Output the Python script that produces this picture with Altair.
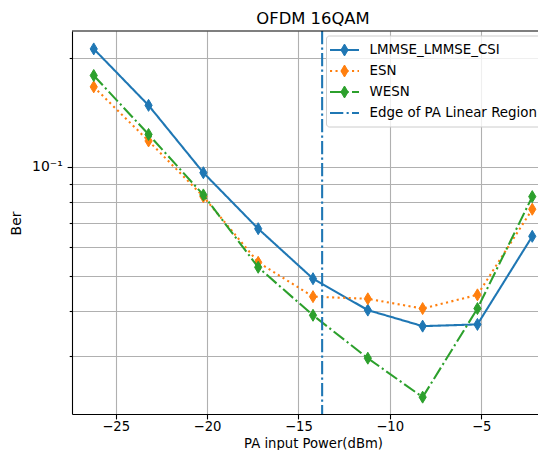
import altair as alt
import pandas as pd

# ---- data ----
x_power = [-26.2, -23.2, -20.2, -17.2, -14.2, -11.2, -8.2, -5.2, -2.2]
ber_lmmse = [0.212, 0.148, 0.0964, 0.0675, 0.0491, 0.0402, 0.0363, 0.0367, 0.0643]
ber_esn = [0.1665, 0.118, 0.0828, 0.0545, 0.0438, 0.0432, 0.0406, 0.0443, 0.0764]
ber_wesn = [0.179, 0.123, 0.0837, 0.0528, 0.0389, 0.0296, 0.0231, 0.0406, 0.0828]
series_names = ["LMMSE_LMMSE_CSI", "ESN", "WESN"]
edge_x = [-13.7]
edge_label = "Edge of PA Linear Region"
chart_title = "OFDM 16QAM"
x_ticks = [-25, -20, -15, -10, -5]
y_ticks = [0.03, 0.04, 0.05, 0.06, 0.07, 0.08, 0.09, 0.1, 0.2]

# ---- styling ----
colors = ["#1f77b4", "#ff7f0e", "#2ca02c"]
SOLID = [1, 0]
DOTTED = [2.1, 3.4]
DASHDOT = [13.3, 3.3, 2.1, 3.3]
dashes = [SOLID, DOTTED, DASHDOT]
DIAMOND = "M0,-1L0.6,0L0,1L-0.6,0Z"
FONT = "DejaVu Sans"
W, H = 466, 383
LW = 2.08
# full (uncropped) plot width in the reference, used to centre the title texts
FULL_W = 482

series_vals = [ber_lmmse, ber_esn, ber_wesn]

xscale = alt.Scale(domain=[-27.39, -1.886], nice=False, zero=False)
yscale = alt.Scale(type="log", domain=[0.02075, 0.2376], nice=False)

xaxis = alt.Axis(values=x_ticks, grid=True, tickSize=4.9, labelPadding=1.5,
                 labelFontSize=13.2,
                 labelExpr="replace(datum.label, '-', '\u2212')", labelFlush=False,
                 title="PA input Power(dBm)", titleX=FULL_W / 2, titleY=36,
                 titleFontSize=13.2,
                 titleAlign="center", titleBaseline="bottom")
yaxis = alt.Axis(values=y_ticks, grid=True,
                 tickSize={"condition": {"test": "datum.value == 0.1", "value": 4.9}, "value": 2.8},
                 labelPadding=4.9,
                 labelExpr="datum.value == 0.1 ? '10\u207b\u00b9' : ''",
                 title="Ber", titleX=-56, titleY=192, titleAngle=270,
                 titleAlign="center", titleBaseline="middle")

X = alt.X("power:Q", scale=xscale, axis=xaxis)
Y = alt.Y("ber:Q", scale=yscale, axis=yaxis)

layers = []
for i, (name, vals) in enumerate(zip(series_names, series_vals)):
    d = pd.DataFrame({"power": x_power, "ber": vals, "series": name})
    base = alt.Chart(d)
    layers.append(base.mark_line(color=colors[i], strokeWidth=LW, strokeDash=dashes[i]).encode(x=X, y=Y))
    layers.append(base.mark_point(shape=DIAMOND, size=144, filled=True, opacity=1,
                                  fill=colors[i], stroke=colors[i], strokeWidth=1).encode(x=X, y=Y))

edge = alt.Chart(pd.DataFrame({"power": edge_x})).mark_rule(
    color="#1f77b4", strokeWidth=LW, strokeDash=DASHDOT).encode(x=X)
layers.append(edge)

# top spine
one = pd.DataFrame({"a": [0]})
layers.append(alt.Chart(one).mark_rule(color="black", strokeWidth=1.1).encode(
    x=alt.value(0), x2=alt.value(W + 5), y=alt.value(0)))

# title as text
layers.append(alt.Chart(pd.DataFrame({"t": [chart_title]})).mark_text(
    font=FONT, fontSize=16.4, align="center", baseline="alphabetic", color="black").encode(
    x=alt.value(FULL_W / 2), y=alt.value(-7), text="t:N"))

# ---- legend ----
LX = 254.5
layers.append(alt.Chart(one).mark_rect(cornerRadius=3, fill="white", fillOpacity=0.8,
                                       stroke="#cccccc", strokeWidth=1).encode(
    x=alt.value(LX), x2=alt.value(W + 20), y=alt.value(5), y2=alt.value(96)))

legend_names = series_names + [edge_label]
legend_colors = colors + ["#1f77b4"]
legend_dashes = dashes + [DASHDOT]
for i, name in enumerate(legend_names):
    yy = 19 + 21 * i
    ld = pd.DataFrame({"label": [name]})
    lc = alt.Chart(ld)
    layers.append(lc.mark_rule(color=legend_colors[i], strokeWidth=LW, strokeDash=legend_dashes[i]).encode(
        x=alt.value(LX + 3.5), x2=alt.value(LX + 32.5), y=alt.value(yy)))
    if i < 3:
        layers.append(lc.mark_point(shape=DIAMOND, size=144, filled=True, opacity=1,
                                    fill=legend_colors[i], stroke=legend_colors[i], strokeWidth=1).encode(
            x=alt.value(LX + 18), y=alt.value(yy)))
    layers.append(lc.mark_text(align="left", baseline="middle", font=FONT, fontSize=13.4,
                               color="black").encode(
        x=alt.value(LX + 43), y=alt.value(yy), text="label:N"))

chart = alt.layer(*layers).properties(
    width=W, height=H,
    autosize=alt.AutoSizeParams(type="none"),
    padding={"left": 64, "top": 23, "right": 0, "bottom": 36},
    background="white",
).configure_view(stroke=None).configure_axis(
    labelFont=FONT, titleFont=FONT, labelFontSize=13.9, titleFontSize=13.9,
    titleFontWeight="normal", labelColor="black", titleColor="black",
    domainColor="black", domainWidth=1.1, tickColor="black", tickWidth=1.1,
    gridColor="#b0b0b0", gridWidth=1.1,
)

chart.save("out.html", embed_options={"renderer": "svg", "actions": False})
